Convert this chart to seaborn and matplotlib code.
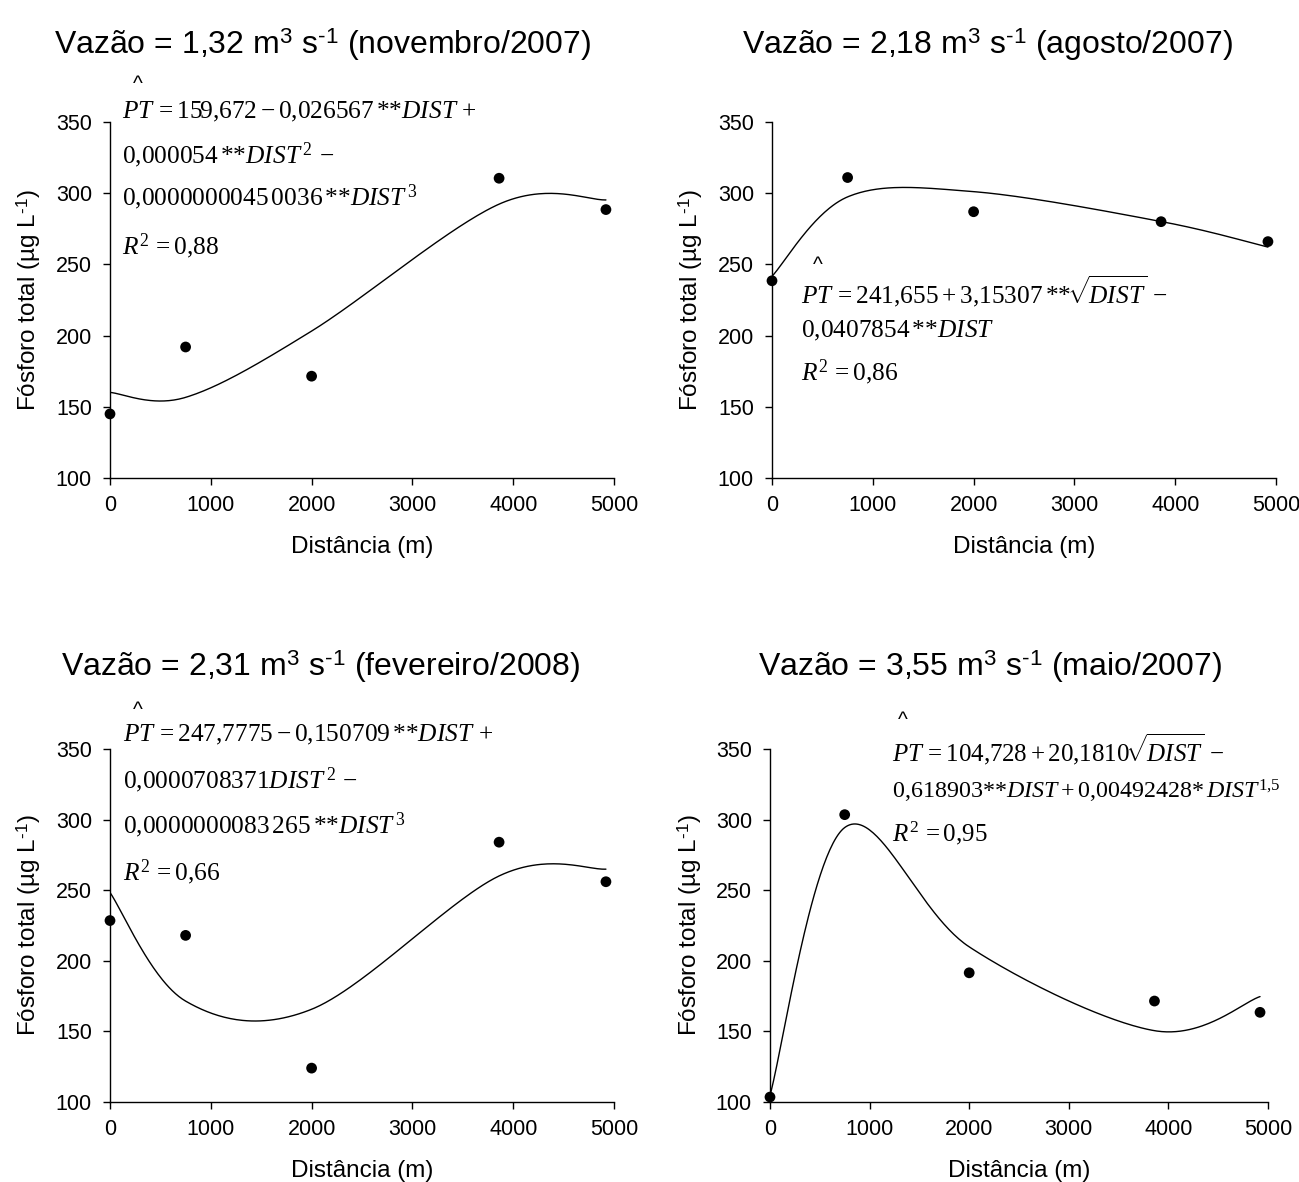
import numpy as np
import matplotlib
matplotlib.use("Agg")
import matplotlib.pyplot as plt
import seaborn as sns

# ---- data -----------------------------------------------------------------
dist = [0, 750, 2000, 3860, 4920]

pt_nov2007 = [145.0, 192.0, 171.5, 310.5, 288.5]
pt_ago2007 = [238.5, 311.0, 287.0, 280.0, 266.0]
pt_fev2008 = [228.5, 218.0, 124.0, 284.0, 256.0]
pt_mai2007 = [103.5, 303.5, 191.5, 171.5, 163.5]

# coefficients as printed in the fitted equations (sqrt models)
coef_ago2007 = [241.655, 3.15307, -0.0407854]
coef_mai2007 = [104.728, 20.1810, -0.618903, 0.00492428]

SUP3 = r"$^{\mathregular{3}}$"
SUPM1 = "$^{\\mathregular{\u20101}}$"

titles = [
    f"Vazão = 1,32 m{SUP3} s{SUPM1} (novembro/2007)",
    f"Vazão = 2,18 m{SUP3} s{SUPM1} (agosto/2007)",
    f"Vazão = 2,31 m{SUP3} s{SUPM1} (fevereiro/2008)",
    f"Vazão = 3,55 m{SUP3} s{SUPM1} (maio/2007)",
]

equations = [
    [r"$PT\, = 159{,}672 - 0{,}026567\,{*}{*}DIST\, +$",
     r"$0{,}000054\,{*}{*}DIST^{\,2}\, -$",
     r"$0{,}0000000045\,0036\,{*}{*}DIST^{\,3}$",
     r"$R^{2}\, = 0{,}88$"],
    [r"$PT\, = 241{,}655 + 3{,}15307\,{*}{*}\!\sqrt{\!DIST}\, -$",
     r"$0{,}0407854\,{*}{*}DIST$",
     r"$R^{2}\, = 0{,}86$"],
    [r"$PT\, = 247{,}7775 - 0{,}150709\,{*}{*}DIST\, +$",
     r"$0{,}0000708371DIST^{\,2}\, -$",
     r"$0{,}0000000083\,265\,{*}{*}DIST^{\,3}$",
     r"$R^{2}\, = 0{,}66$"],
    [r"$PT\, = 104{,}728 + 20{,}1810\!\sqrt{\!DIST}\, -$",
     r"$0{,}618903{*}{*}DIST + 0{,}00492428{*}\,DIST^{1{,}5}$",
     r"$R^{2}\, = 0{,}95$"],
]

xticks = [0, 1000, 2000, 3000, 4000, 5000]
yticks = [100, 150, 200, 250, 300, 350]
xlabel = "Distância (m)"
ylabel = "Fósforo total (µg L" + SUPM1 + ")"

# ---- style ----------------------------------------------------------------
sns.set_style("ticks")
plt.rcParams["font.family"] = ["Liberation Sans", "DejaVu Sans"]
plt.rcParams["mathtext.fontset"] = "custom"
plt.rcParams["mathtext.rm"] = "Liberation Serif"
plt.rcParams["mathtext.it"] = "Liberation Serif:italic"
plt.rcParams["mathtext.bf"] = "Liberation Serif:bold"

W, H = 1299, 1182
fig = plt.figure(figsize=(W / 100, H / 100), dpi=100)


def add_axes_px(left, right, top, bottom):
    return fig.add_axes([left / W, 1 - bottom / H, (right - left) / W, (bottom - top) / H])


def cubic_terms(x):
    return [np.ones_like(x), x, x ** 2, x ** 3]

def sqrt_lin_terms(x):
    return [np.ones_like(x), np.sqrt(x), x]

def sqrt_lin_pow15_terms(x):
    return [np.ones_like(x), np.sqrt(x), x, x ** 1.5]


def smooth_line(px, py, n=60):
    """Smoothed line through the points using cubic Bezier segments whose
    control points follow the neighbouring points (spreadsheet-style smoothing)."""
    px = np.asarray(px, float)
    py = np.asarray(py, float)
    P = np.column_stack([px, py])
    Pext = np.vstack([P[0], P, P[-1]])
    xs, ys = [], []
    t = np.linspace(0, 1, n)[:, None]
    for i in range(len(P) - 1):
        p0, p1, p2, p3 = Pext[i], Pext[i + 1], Pext[i + 2], Pext[i + 3]
        c1 = p1 + (p2 - p0) / 6.0
        c2 = p2 - (p3 - p1) / 6.0
        B = ((1 - t) ** 3) * p1 + 3 * ((1 - t) ** 2) * t * c1 \
            + 3 * (1 - t) * t ** 2 * c2 + t ** 3 * p2
        start = 0 if i == 0 else 1
        xs.append(B[start:, 0])
        ys.append(B[start:, 1])
    return np.concatenate(xs), np.concatenate(ys)


# pixel boxes: left, right, top (y=350), bottom (y=100)
boxes = [(110, 614, 122, 478), (772, 1276, 122, 478),
         (110, 614, 749, 1102), (770, 1268, 749, 1102)]
series = [pt_nov2007, pt_ago2007, pt_fev2008, pt_mai2007]
models = [cubic_terms, sqrt_lin_terms, cubic_terms, sqrt_lin_pow15_terms]
printed_coefs = [None, coef_ago2007, None, coef_mai2007]

# text anchors (data coordinates): hat x, hat y, line x, line y's
eq_pos = [
    (275, 376, 120, [357, 327, 297, 263]),
    (450, 249, 290, [231, 203, 174]),
    (275, 377, 125, [360, 328, 296, 263]),
    (1330, 370, 1220, [350, 320, 290]),
]
eq_size = [[18.3] * 4, [18.3] * 3, [18.3] * 4, [18.0, 17.3, 18.0]]

title_pos = [(322, 45), (987, 45), (321, 667), (990, 667)]

for i, (box, y, model) in enumerate(zip(boxes, series, models)):
    ax = add_axes_px(*box)
    x = np.asarray(dist, dtype=float)
    yv = np.asarray(y, dtype=float)

    A = np.column_stack(model(x))
    if printed_coefs[i] is not None:
        coef = np.asarray(printed_coefs[i])
    else:
        coef, *_ = np.linalg.lstsq(A, yv, rcond=None)
    y_hat = A @ coef

    cx, cy = smooth_line(x, y_hat)
    sns.lineplot(x=cx, y=cy, ax=ax, color="black", linewidth=1.0,
                 sort=False, estimator=None)

    sns.scatterplot(x=dist, y=y, ax=ax, color="black", s=60,
                    edgecolor="none", clip_on=False, zorder=5)

    ax.set_xlim(0, 5000)
    ax.set_ylim(100, 350)
    ax.set_xticks(xticks)
    ax.set_yticks(yticks)
    ax.tick_params(axis="both", direction="out", length=5, width=1,
                   color="black", labelsize=15.5, labelcolor="black")
    ax.tick_params(axis="y", pad=8)
    ax.tick_params(axis="x", pad=7)
    for s in ("left", "bottom"):
        ax.spines[s].set_color("black")
        ax.spines[s].set_linewidth(1.0)
    sns.despine(ax=ax)

    ax.set_xlabel(xlabel, fontsize=17.5, color="black")
    ax.set_ylabel(ylabel, fontsize=17.5, color="black")
    ax.xaxis.set_label_coords(0.5, -0.195)
    ax.yaxis.set_label_coords(-0.162, 0.5)
    ax.xaxis.label.set_va("center")
    ax.yaxis.label.set_va("center")

    hx, hy, lx, lys = eq_pos[i]
    ax.text(hx, hy, "^", fontsize=15, ha="center", va="center",
            color="black", clip_on=False)
    for line, ly, fs in zip(equations[i], lys, eq_size[i]):
        ax.text(lx, ly, line, fontsize=fs, ha="left", va="center",
                color="black", clip_on=False)

    tx, ty = title_pos[i]
    fig.text(tx / W, 1 - ty / H, titles[i], fontsize=23, ha="center",
             va="center", color="black")

fig.savefig("out.png", dpi=100, facecolor="white")
